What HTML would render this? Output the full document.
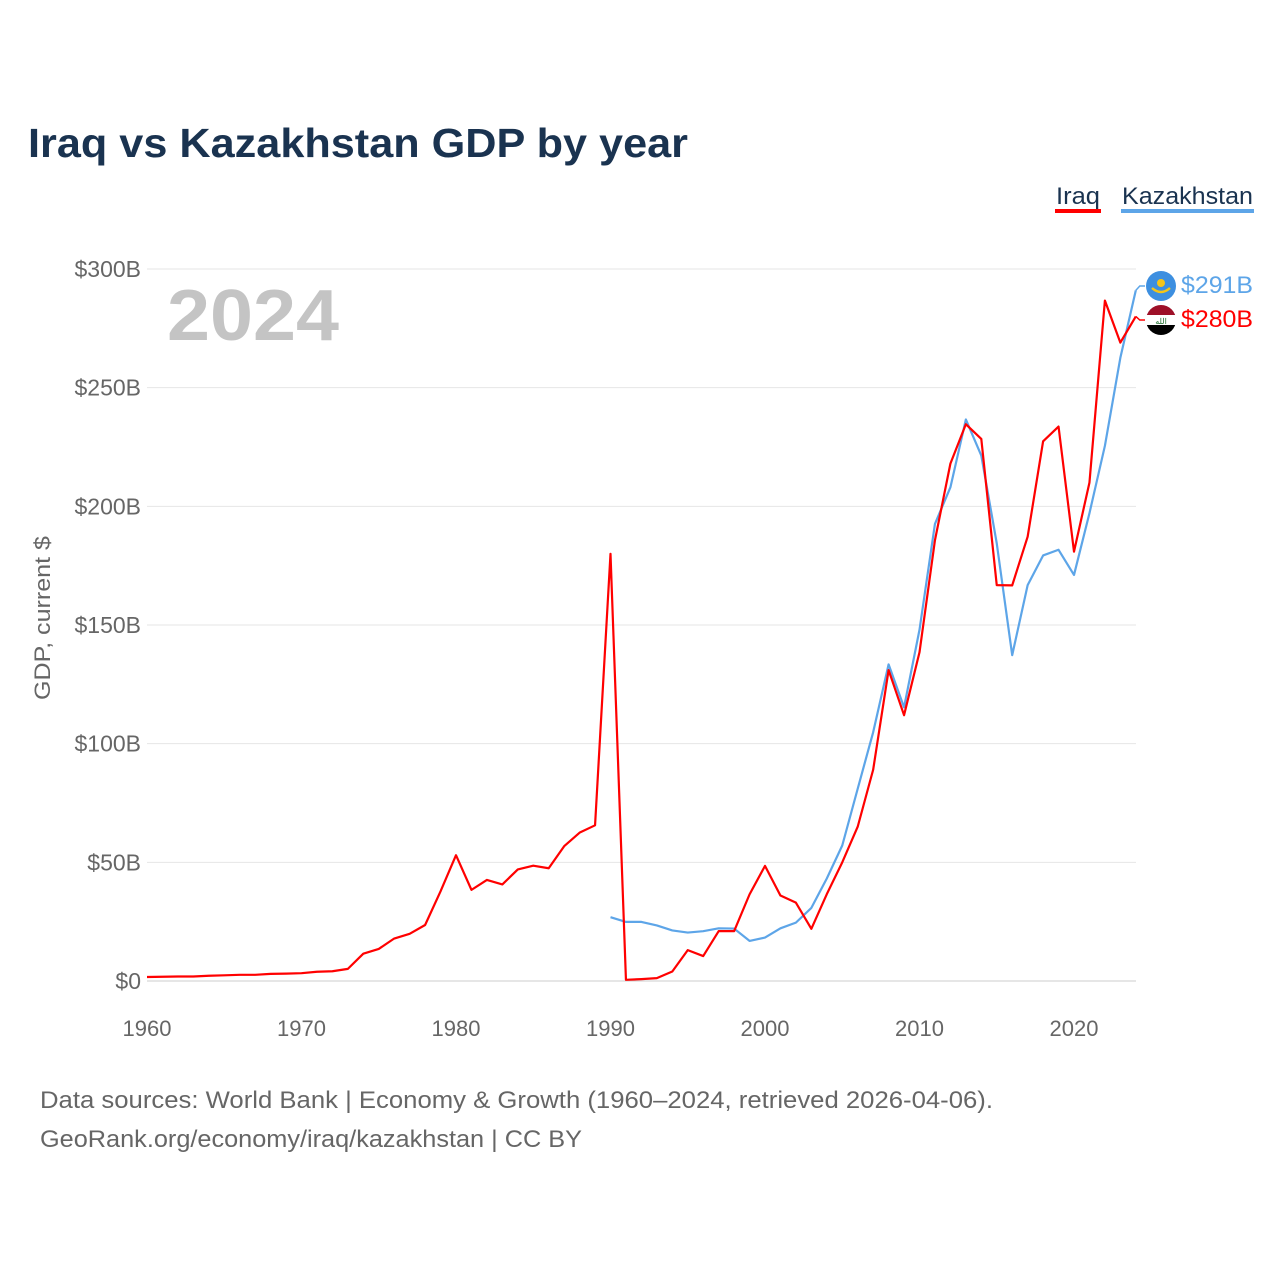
<!DOCTYPE html>
<html><head><meta charset="utf-8">
<style>
body{margin:0;background:#fff;width:1280px;height:1280px;overflow:hidden;font-family:"Liberation Sans",sans-serif}
</style></head><body>
<svg id="chart" width="1280" height="1280" xmlns="http://www.w3.org/2000/svg">
<text x="28" y="157" font-size="41" font-weight="bold" fill="#1a3350" textLength="660" lengthAdjust="spacingAndGlyphs">Iraq vs Kazakhstan GDP by year</text>
<g>
<text x="1056" y="204" font-size="24" fill="#1a3350" textLength="44" lengthAdjust="spacingAndGlyphs">Iraq</text>
<rect x="1055" y="209" width="46" height="4" fill="#ff0000"/>
<text x="1122" y="204" font-size="24" fill="#1a3350" textLength="131" lengthAdjust="spacingAndGlyphs">Kazakhstan</text>
<rect x="1121" y="209" width="133" height="4" fill="#5da5e8"/>
</g>
<g id="grid"></g>
<text x="167" y="340" font-size="72" font-weight="bold" fill="#c4c4c4" textLength="172" lengthAdjust="spacingAndGlyphs">2024</text>
<text transform="translate(50,618) rotate(-90)" text-anchor="middle" font-size="22" fill="#666" textLength="164" lengthAdjust="spacingAndGlyphs">GDP, current $</text>
<g id="series"></g>
<g>
<circle cx="1161" cy="286" r="15" fill="#3d8fe0"/>
<circle cx="1161" cy="283" r="4" fill="#f5c518"/>
<path d="M1152 288 Q1161 296 1170 288" stroke="#f5c518" stroke-width="2.5" fill="none"/>
<g>
<clipPath id="cf"><circle cx="1161" cy="320" r="15"/></clipPath>
<g clip-path="url(#cf)"><rect x="1146" y="305" width="30" height="10" fill="#9e1028"/><rect x="1146" y="315" width="30" height="10" fill="#fff"/><rect x="1146" y="325" width="30" height="10" fill="#000"/></g>
<text x="1161" y="324" font-size="8" text-anchor="middle" fill="#1a6b2a">الله</text>
</g>
<text x="1181" y="293" font-size="24" fill="#5da5e8" textLength="72" lengthAdjust="spacingAndGlyphs">$291B</text>
<text x="1181" y="327" font-size="24" fill="#ff0000" textLength="72" lengthAdjust="spacingAndGlyphs">$280B</text>
</g>
<text x="40" y="1108" font-size="24" fill="#666" textLength="953" lengthAdjust="spacingAndGlyphs">Data sources: World Bank | Economy &amp; Growth (1960–2024, retrieved 2026-04-06).</text>
<text x="40" y="1147" font-size="24" fill="#666" textLength="542" lengthAdjust="spacingAndGlyphs">GeoRank.org/economy/iraq/kazakhstan | CC BY</text>
</svg>
<script>
const yTicks=[0,50,100,150,200,250,300];
const yTickLabels=["$0","$50B","$100B","$150B","$200B","$250B","$300B"];
const xTicks=[1960,1970,1980,1990,2000,2010,2020];
const iraqStart=1960;
const iraqValues=[1.7,1.8,1.9,1.9,2.2,2.4,2.6,2.6,3.0,3.1,3.3,3.9,4.1,5.1,11.5,13.5,17.9,19.9,23.6,37.8,53.0,38.4,42.6,40.7,47.0,48.6,47.5,56.8,62.5,65.6,180,0.5,0.8,1.2,4,13,10.5,21,21,36.5,48.5,36,33,22,36.6,50,65,89,131,112,138.5,185.7,218,234.6,228.4,166.8,166.7,187.2,227.4,233.6,180.9,210,286.7,269,280];
const kazStart=1990;
const kazValues=[26.9,24.9,24.9,23.4,21.3,20.4,21.0,22.2,22.1,16.9,18.3,22.2,24.6,30.8,43.2,57.1,81,104.8,133.4,115.3,148,192.6,208,236.6,221.4,184.4,137.3,166.8,179.3,181.7,171.1,197.1,225.5,262.6,291];
const NS="http://www.w3.org/2000/svg";
const x=yr=>147+(yr-1960)*(927/60);
const y=v=>981-v*(712/300);
const grid=document.getElementById('grid');
yTicks.forEach((t,i)=>{
 const l=document.createElementNS(NS,'line');
 l.setAttribute('x1',147);l.setAttribute('x2',1136);l.setAttribute('y1',y(t));l.setAttribute('y2',y(t));
 l.setAttribute('stroke',t===0?'#ccc':'#e6e6e6');l.setAttribute('stroke-width',1);
 
 
 grid.appendChild(l);
 const tx=document.createElementNS(NS,'text');
 tx.setAttribute('x',141);tx.setAttribute('y',y(t)+8);tx.setAttribute('text-anchor','end');
 tx.setAttribute('font-size','23');tx.setAttribute('fill','#666');tx.textContent=yTickLabels[i];
 
 
 grid.appendChild(tx);
});
xTicks.forEach(t=>{
 const tx=document.createElementNS(NS,'text');
 tx.setAttribute('x',x(t));tx.setAttribute('y',1036);tx.setAttribute('text-anchor','middle');
 tx.setAttribute('font-size','22');tx.setAttribute('fill','#666');tx.textContent=t;
 
 
 grid.appendChild(tx);
});
const series=document.getElementById('series');
function line(start,vals,color,name){
 const p=document.createElementNS(NS,'polyline');
 p.setAttribute('points',vals.map((v,i)=>x(start+i)+','+y(v)).join(' '));
 p.setAttribute('fill','none');p.setAttribute('stroke',color);p.setAttribute('stroke-width',2.2);p.setAttribute('stroke-linejoin','round');
 
 
 series.appendChild(p);
 return [x(start+vals.length-1), y(vals[vals.length-1])];
}
const k=line(kazStart,kazValues,'#5da5e8','kazakhstan-line');
const q=line(iraqStart,iraqValues,'#ff0000','iraq-line');
[[k,286,'#5da5e8'],[q,320,'#ff0000']].forEach(([pt,ty,c])=>{
 const l=document.createElementNS(NS,'polyline');
 l.setAttribute('points',`${pt[0]},${pt[1]} ${pt[0]+4},${ty} ${1145},${ty}`);
 l.setAttribute('fill','none');l.setAttribute('stroke',c);l.setAttribute('stroke-width',1.5);
 
 
 series.appendChild(l);
});
</script>
</body></html>
